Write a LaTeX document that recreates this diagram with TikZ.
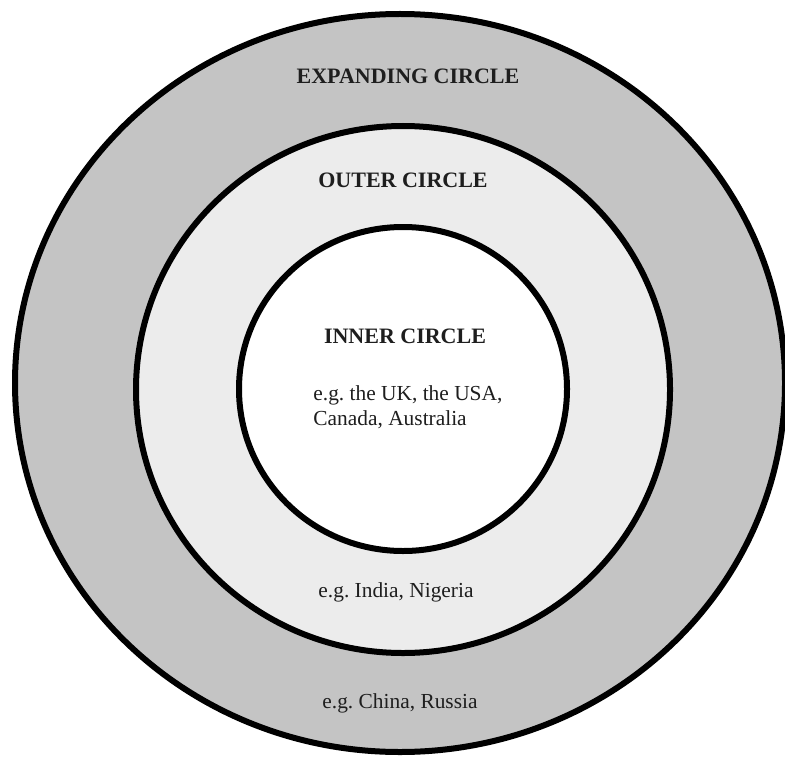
\documentclass[tikz,border=0pt]{standalone}
\usepackage{fontspec}
\setmainfont{Liberation Serif}
\usetikzlibrary{positioning}

\definecolor{ringdark}{RGB}{196,196,196}
\definecolor{ringlight}{RGB}{236,236,236}
\definecolor{inktext}{RGB}{30,30,30}

\begin{document}
\frenchspacing
\begin{tikzpicture}[
  x=0.5pt, y=-0.5pt,
  ring/.style = {draw=black, line width=3pt},
  title/.style = {font=\fontsize{11}{12.5}\selectfont\bfseries, text=inktext, inner sep=0pt},
  label/.style = {font=\fontsize{10.7}{12.5}\selectfont, text=inktext, inner sep=0pt}
]
  \useasboundingbox (0,0) rectangle (785,759);

  % Circles
  \filldraw[ring, fill=ringdark]  (400,383)   ellipse [x radius=385, y radius=369];
  \filldraw[ring, fill=ringlight] (403,389.5) ellipse [x radius=267, y radius=263.5];
  \filldraw[ring, fill=white]     (403,389)   ellipse [x radius=164, y radius=162];

  % Labels
  \node[title] (expanding) at (408,76)  {EXPANDING CIRCLE};
  \node[title] (outer)     at (403,180) {OUTER CIRCLE};
  \node[title] (inner)     at (405,336) {INNER CIRCLE};

  \node[label, align=left, anchor=west] (innerex) at (313,407)
    {e.g. the UK, the USA,\\ Canada, Australia};
  \node[label] (outerex)     at (396,592) {e.g. India, Nigeria};
  \node[label] (expandingex) at (400,703) {e.g. China, Russia};

\end{tikzpicture}
\end{document}
